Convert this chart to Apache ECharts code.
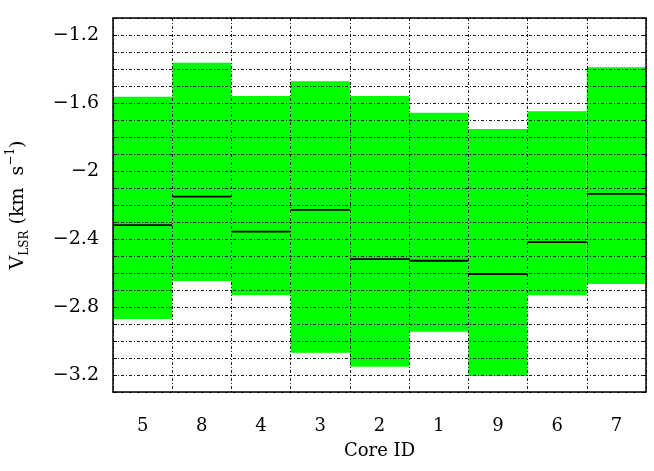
<!DOCTYPE html>
<html>
<head>
<meta charset="utf-8">
<script src="https://cdn.jsdelivr.net/npm/echarts@6/dist/echarts.min.js"></script>
<style>html,body{margin:0;padding:0;background:#fff;}#c{width:654px;height:471px;}</style>
</head>
<body>
<div id="c"></div>
<script>
const categories = ['5', '8', '4', '3', '2', '1', '9', '6', '7'];
const vHigh = [-1.563, -1.363, -1.559, -1.472, -1.559, -1.657, -1.753, -1.649, -1.390];
const vLow  = [-2.871, -2.647, -2.729, -3.069, -3.151, -2.945, -3.206, -2.731, -2.665];
const vMean = [-2.318, -2.151, -2.357, -2.229, -2.518, -2.528, -2.606, -2.418, -2.135];
const yTickLabels = ['-1.2', '-1.6', '-2', '-2.4', '-2.8', '-3.2'];

const data = categories.map((c, i) => [i, vLow[i], vHigh[i], vMean[i]]);
const FONT = 'DejaVu Serif';

const chart = echarts.init(document.getElementById('c'));
const yLabelFmt = v => {
  const s = String(Math.round(v * 10) / 10);
  return yTickLabels.indexOf(s) >= 0 ? s.replace('-', '\u2212') : '';
};
const dotted = { type: [3, 2, 1, 2], color: '#000', width: 1, opacity: 0.9 };

chart.setOption({
  animation: false,
  grid: { left: 113, right: 8, top: 18, bottom: 79, containLabel: false, outerBoundsMode: 'none' },
  xAxis: [{
    type: 'category', data: categories, position: 'bottom',
    axisLine: { lineStyle: { color: '#000', width: 1.5 } },
    axisTick: { inside: true, alignWithLabel: true, length: 6, lineStyle: { color: '#000', width: 1 } },
    axisLabel: { color: '#000', fontFamily: FONT, fontSize: 18, margin: 25 },
    splitLine: { show: true, lineStyle: dotted },
    name: 'Core ID', nameLocation: 'middle', nameGap: 50,
    nameTextStyle: { color: '#000', fontFamily: FONT, fontSize: 18 }
  }, {
    type: 'category', data: categories, position: 'top',
    axisLine: { lineStyle: { color: '#000', width: 1.5 } },
    axisTick: { inside: true, alignWithLabel: true, length: 6, lineStyle: { color: '#000', width: 1 } },
    axisLabel: { show: false }, splitLine: { show: false }
  }],
  yAxis: [{
    type: 'value', min: -3.3, max: -1.1, interval: 0.1, position: 'left',
    axisLine: { show: true, lineStyle: { color: '#000', width: 1.5 } },
    axisTick: { show: true, inside: true, length: 4, lineStyle: { color: '#000', width: 1 } },
    axisLabel: { color: '#000', fontFamily: FONT, fontSize: 19, margin: 14, formatter: yLabelFmt, showMinLabel: true, showMaxLabel: true },
    splitLine: { show: true, lineStyle: dotted },
    name: '{m|V}{s|LSR}{m| (km  s}{p|\u22121}{m|)}',
    nameLocation: 'middle', nameGap: 80, nameRotate: 90,
    nameTextStyle: {
      color: '#000', fontFamily: FONT, fontSize: 18,
      rich: {
        m: { fontFamily: FONT, fontSize: 19, color: '#000', lineHeight: 30, verticalAlign: 'middle' },
        s: { fontFamily: FONT, fontSize: 12, color: '#000', lineHeight: 30, verticalAlign: 'bottom', padding: [0, 0, 2, 0] },
        p: { fontFamily: FONT, fontSize: 12, color: '#000', lineHeight: 30, verticalAlign: 'top', padding: [2, 0, 0, 0] }
      }
    }
  }, {
    type: 'value', min: -3.3, max: -1.1, interval: 0.1, position: 'right',
    axisLine: { show: true, lineStyle: { color: '#000', width: 1.5 } },
    axisTick: { show: true, inside: true, length: 4, lineStyle: { color: '#000', width: 1 } },
    axisLabel: { show: false }, splitLine: { show: false }
  }],
  series: [{
    type: 'custom', z: -1, xAxisIndex: 0, yAxisIndex: 0,
    encode: { x: 0, y: [1, 2] },
    data: data,
    renderItem: (params, api) => {
      const x = api.value(0);
      const pLo = api.coord([x, api.value(1)]);
      const pHi = api.coord([x, api.value(2)]);
      const w = api.size([1, 0])[0];
      return { type: 'rect', shape: { x: pHi[0] - w / 2, y: pHi[1], width: w, height: pLo[1] - pHi[1] },
               style: { fill: '#00ff00' } };
    }
  }, {
    type: 'custom', z: 5, xAxisIndex: 0, yAxisIndex: 0,
    encode: { x: 0, y: 3 },
    data: data,
    renderItem: (params, api) => {
      const x = api.value(0);
      const p = api.coord([x, api.value(3)]);
      const w = api.size([1, 0])[0];
      return { type: 'line', shape: { x1: p[0] - w / 2, y1: p[1], x2: p[0] + w / 2, y2: p[1] },
               style: { stroke: '#000', lineWidth: 1.8 } };
    }
  }]
});
</script>
</body>
</html>
